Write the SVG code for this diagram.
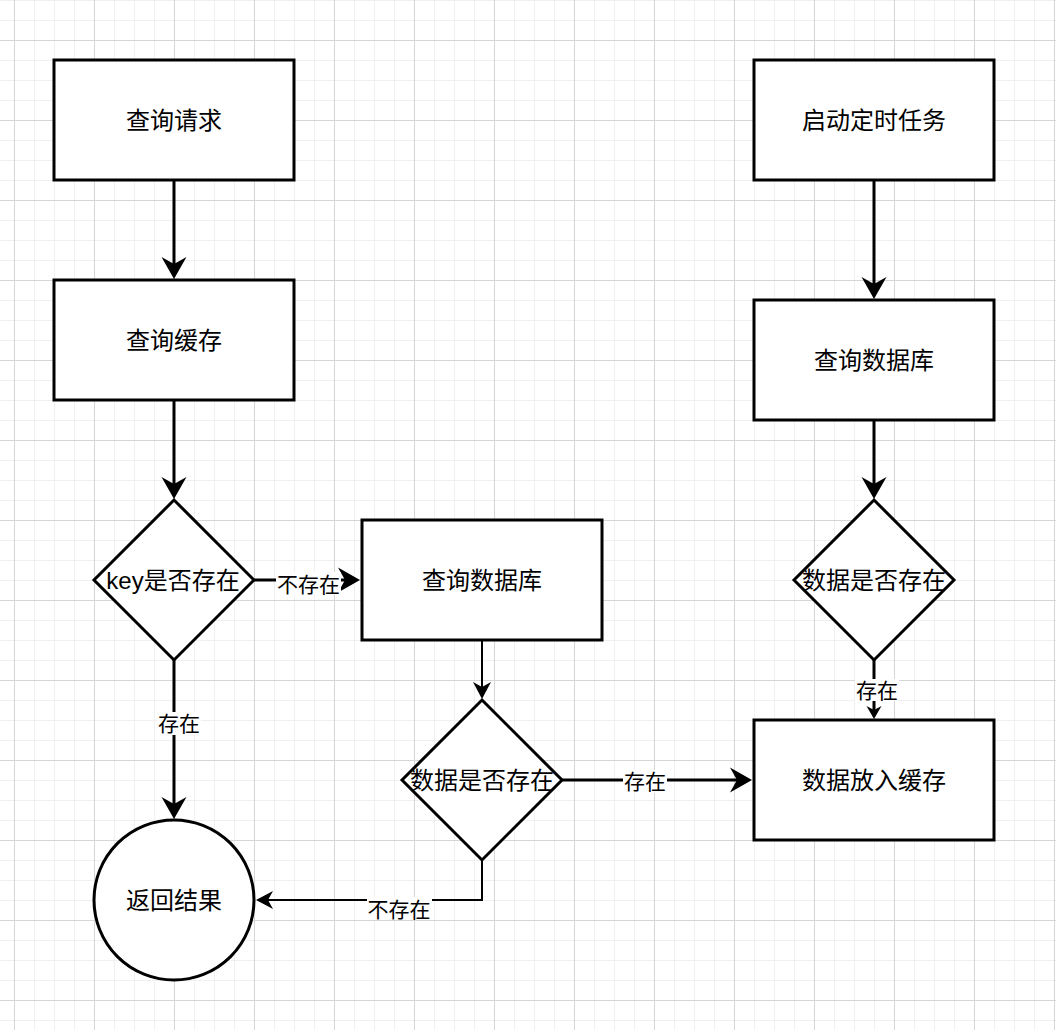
<svg xmlns="http://www.w3.org/2000/svg" width="1056" height="1030" viewBox="0 0 1056 1030">
<style>
.box{fill:#fff;stroke:#000;stroke-width:3}
.t{font-family:"Liberation Sans","Noto Sans CJK SC",sans-serif;font-size:24px;fill:#000;text-anchor:middle;dominant-baseline:central}
.lt{font-family:"Liberation Sans","Noto Sans CJK SC",sans-serif;font-size:21px;fill:#000;text-anchor:middle;dominant-baseline:central}
.e{fill:none;stroke:#000;stroke-width:3}
.e2{fill:none;stroke:#000;stroke-width:2}
.lb{fill:#fff}
</style>
<defs>
<pattern id="grid" patternUnits="userSpaceOnUse" x="14" y="40" width="80" height="80">
<rect x="20" y="0" width="1" height="80" fill="#f0f0f0"/>
<rect x="40" y="0" width="1" height="80" fill="#f0f0f0"/>
<rect x="60" y="0" width="1" height="80" fill="#f0f0f0"/>
<rect x="0" y="20" width="80" height="1" fill="#f0f0f0"/>
<rect x="0" y="40" width="80" height="1" fill="#f0f0f0"/>
<rect x="0" y="60" width="80" height="1" fill="#f0f0f0"/>
<rect x="0" y="0" width="1" height="80" fill="#d6d6d6"/>
<rect x="0" y="0" width="80" height="1" fill="#d6d6d6"/>
</pattern>
<marker id="aL" markerUnits="userSpaceOnUse" viewBox="0 -13 23 26" markerWidth="23" markerHeight="26" refX="7" refY="0" orient="auto">
<path d="M0,-12.5 L22,0 L0,12.5 L7,0 Z" fill="#000"/>
</marker>
<marker id="aM" markerUnits="userSpaceOnUse" viewBox="0 -10 18 20" markerWidth="18" markerHeight="20" refX="5" refY="0" orient="auto">
<path d="M0,-9 L17,0 L0,9 L5,0 Z" fill="#000"/>
</marker>
<marker id="aS" markerUnits="userSpaceOnUse" viewBox="0 -9 14 18" markerWidth="14" markerHeight="18" refX="4" refY="0" orient="auto">
<path d="M0,-7.5 L13,0 L0,7.5 L4,0 Z" fill="#000"/>
</marker>
</defs>
<rect x="0" y="0" width="1056" height="1030" fill="#fff"/>
<rect x="0" y="0" width="1056" height="1030" fill="url(#grid)"/>

<g id="n-query-request"><rect class="box" x="54" y="60" width="240" height="120"/><text class="t" x="174" y="120">查询请求</text></g>
<g id="n-query-cache"><rect class="box" x="54" y="280" width="240" height="120"/><text class="t" x="174" y="340">查询缓存</text></g>
<g id="n-key-exists"><polygon class="box" points="174,500 254,580 174,660 94,580"/><text class="t" x="173" y="580">key是否存在</text></g>
<g id="n-return"><circle class="box" cx="174" cy="900" r="80"/><text class="t" x="174" y="900">返回结果</text></g>
<g id="n-query-db-mid"><rect class="box" x="362" y="520" width="240" height="120"/><text class="t" x="482" y="580">查询数据库</text></g>
<g id="n-data-exists-mid"><polygon class="box" points="482,700 562,780 482,860 402,780"/><text class="t" x="482" y="780">数据是否存在</text></g>
<g id="n-start-task"><rect class="box" x="754" y="60" width="240" height="120"/><text class="t" x="874" y="120">启动定时任务</text></g>
<g id="n-query-db-right"><rect class="box" x="754" y="300" width="240" height="120"/><text class="t" x="874" y="360">查询数据库</text></g>
<g id="n-data-exists-right"><polygon class="box" points="874,500 954,580 874,660 794,580"/><text class="t" x="874" y="580">数据是否存在</text></g>
<g id="n-put-cache"><rect class="box" x="754" y="720" width="240" height="120"/><text class="t" x="874" y="780">数据放入缓存</text></g>

<g id="connectors">
<path class="e" d="M174,180 V264" marker-end="url(#aL)"/>
<path class="e" d="M174,400 V484" marker-end="url(#aL)"/>
<path class="e" d="M254,580 H345" marker-end="url(#aL)"/>
<path class="e" d="M174,660 V804" marker-end="url(#aL)"/>
<path class="e2" d="M482,640 V687" marker-end="url(#aM)"/>
<path class="e" d="M562,780 H737" marker-end="url(#aL)"/>
<path class="e2" d="M482,860 V900 H268" marker-end="url(#aM)"/>
<path class="e" d="M874,180 V284" marker-end="url(#aL)"/>
<path class="e" d="M874,420 V484" marker-end="url(#aL)"/>
<path class="e" d="M874,660 V710" marker-end="url(#aS)"/>
<g id="edge-labels">
<rect class="lb" x="276" y="572" width="65" height="23"/><text class="lt" x="308.5" y="584">不存在</text>
<rect class="lb" x="157" y="712" width="44" height="23"/><text class="lt" x="179" y="723">存在</text>
<rect class="lb" x="623" y="770" width="44" height="23"/><text class="lt" x="645" y="781">存在</text>
<rect class="lb" x="855" y="679" width="44" height="22"/><text class="lt" x="877" y="690">存在</text>
<rect class="lb" x="367" y="897" width="65" height="23"/><text class="lt" x="399" y="909">不存在</text>
</g>
</g>
</svg>
